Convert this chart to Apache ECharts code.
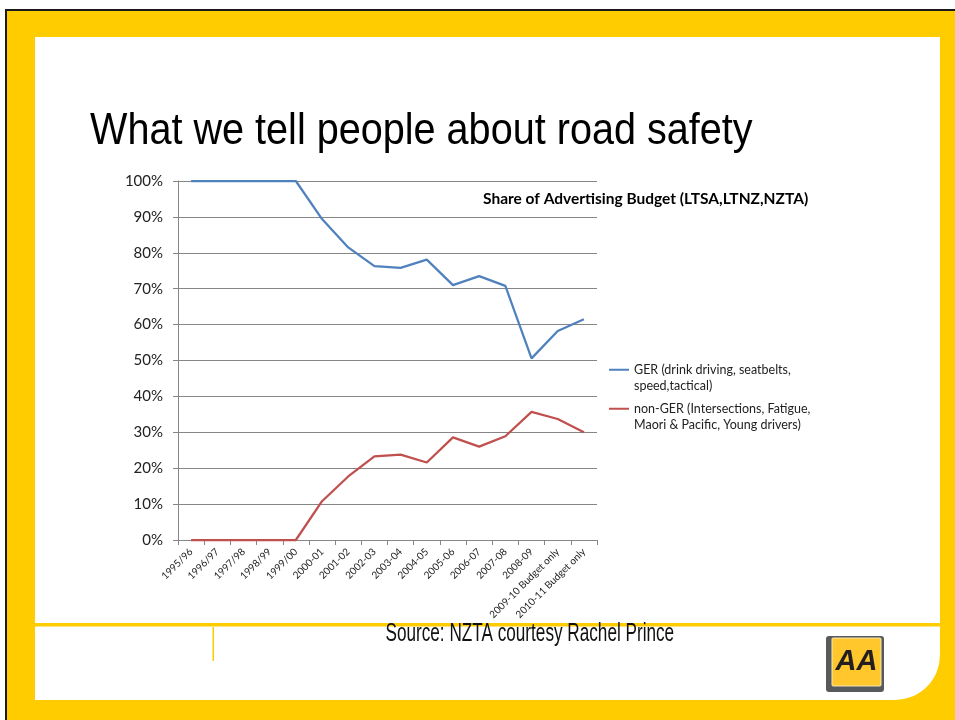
<!DOCTYPE html>
<html>
<head>
<meta charset="utf-8">
<title>What we tell people about road safety</title>
<script src="https://cdn.jsdelivr.net/npm/echarts@6/dist/echarts.min.js"></script>
<style>
  html, body { margin: 0; padding: 0; background: #fff; }
  #chart { width: 955px; height: 720px; }
</style>
</head>
<body>
<div id="chart"></div>
<script>
// financial years on the x axis
const years = [
  '1995/96', '1996/97', '1997/98', '1998/99', '1999/00',
  '2000-01', '2001-02', '2002-03', '2003-04', '2004-05',
  '2005-06', '2006-07', '2007-08', '2008-09',
  '2009-10 Budget only', '2010-11 Budget only'
]

// share of advertising budget, percent
const gerShare = [100, 100, 100, 100, 100, 89.4, 81.5, 76.3, 75.8, 78.1, 71.0, 73.5, 70.8, 50.6, 58.2, 61.5]
const nonGerShare = [0, 0, 0, 0, 0, 10.8, 17.7, 23.3, 23.8, 21.6, 28.6, 26.0, 28.9, 35.7, 33.7, 30.0]

const seriesNames = [
  'GER (drink driving, seatbelts,\nspeed,tactical)',
  'non-GER (Intersections, Fatigue,\nMaori & Pacific, Young drivers)'
]
const seriesColors = ['#4F81BD', '#C0504D']

const YELLOW = '#FFCC00'
const calibriLike = 'Lato, "Open Sans", sans-serif'

const chart = echarts.init(document.getElementById('chart'))

// slide frame, titles and logo
const graphic = [
  { type: 'rect', z: -5, silent: true, shape: { x: 5, y: 9, width: 960, height: 720 }, style: { fill: '#1a1a1a' } },
  { type: 'rect', z: -5, silent: true, shape: { x: 7, y: 11, width: 960, height: 720 }, style: { fill: YELLOW } },
  { type: 'rect', z: -5, silent: true, shape: { x: 35, y: 37, width: 905, height: 663, r: [0, 0, 45, 0] }, style: { fill: '#fff' } },
  { type: 'rect', z: -4, silent: true, shape: { x: 35, y: 623, width: 905, height: 3.5 }, style: { fill: YELLOW } },
  { type: 'rect', z: -4, silent: true, shape: { x: 212.5, y: 627, width: 1.5, height: 34 }, style: { fill: YELLOW } },
  {
    type: 'text', x: 90, y: 131.5, scaleX: 0.88, z: 10,
    style: { text: 'What we tell people about road safety', fontFamily: '"Liberation Sans", Arial, sans-serif', fontSize: 45, fill: '#000', verticalAlign: 'middle' }
  },
  {
    type: 'text', x: 385.5, y: 634, scaleX: 0.66, z: 10,
    style: { text: 'Source: NZTA courtesy Rachel Prince', fontFamily: '"Liberation Sans", Arial, sans-serif', fontSize: 26, fill: '#111', verticalAlign: 'middle' }
  },
  // AA logo
  { type: 'rect', z: 10, shape: { x: 826, y: 636, width: 58, height: 56, r: 3 }, style: { fill: '#58595B' } },
  { type: 'rect', z: 11, shape: { x: 832, y: 638, width: 49, height: 48, r: 1 }, style: { fill: '#FFC72C', stroke: '#f3e7b8', lineWidth: 1 } },
  {
    type: 'text', x: 856.5, y: 662, z: 12,
    style: { text: 'AA', fontFamily: '"Liberation Sans", Arial, sans-serif', fontSize: 29, fontWeight: 'bold', fontStyle: 'italic', fill: '#231F20', align: 'center', verticalAlign: 'middle' }
  }
]

const option = {
  animation: false,
  backgroundColor: 'transparent',
  graphic: graphic,
  title: {
    text: 'Share of Advertising Budget (LTSA,LTNZ,NZTA)',
    left: 483,
    top: 191,
    padding: 0,
    textStyle: { fontFamily: calibriLike, fontSize: 15.5, fontWeight: 'bold', color: '#000' }
  },
  legend: {
    orient: 'vertical',
    left: 609,
    top: 345,
    padding: 0,
    itemGap: -10.5,
    icon: 'rect',
    itemWidth: 20,
    itemHeight: 2,
    data: seriesNames,
    // leading blank line puts the first text line level with the icon
    formatter: (name) => '\n' + name,
    textStyle: { fontFamily: calibriLike, fontSize: 12.5, color: '#222', lineHeight: 16.5 }
  },
  grid: {
    left: 178,
    right: 358,
    top: 181,
    bottom: 180,
    containLabel: false,
    outerBoundsMode: 'none'
  },
  xAxis: {
    type: 'category',
    data: years,
    boundaryGap: true,
    axisLine: { lineStyle: { color: '#868686', width: 1 } },
    axisTick: { show: true, length: 5, lineStyle: { color: '#868686' } },
    axisLabel: { interval: 0, rotate: 45, margin: 10, fontFamily: calibriLike, fontSize: 10, color: '#222' },
    splitLine: { show: false }
  },
  yAxis: {
    type: 'value',
    min: 0,
    max: 100,
    interval: 10,
    axisLine: { show: true, lineStyle: { color: '#868686', width: 1 } },
    axisTick: { show: true, length: 5, lineStyle: { color: '#868686' } },
    axisLabel: { formatter: '{value}%', margin: 15, fontFamily: calibriLike, fontSize: 15, color: '#222' },
    splitLine: { show: true, lineStyle: { color: '#868686', width: 1 } }
  },
  series: [
    {
      name: seriesNames[0],
      type: 'line',
      data: gerShare,
      symbol: 'none',
      clip: false,
      color: seriesColors[0],
      lineStyle: { color: seriesColors[0], width: 2.25 },
      z: 3
    },
    {
      name: seriesNames[1],
      type: 'line',
      data: nonGerShare,
      symbol: 'none',
      clip: false,
      color: seriesColors[1],
      lineStyle: { color: seriesColors[1], width: 2.25 },
      z: 3
    }
  ]
}

chart.setOption(option)
window.addEventListener('resize', () => chart.resize())
</script>
</body>
</html>
